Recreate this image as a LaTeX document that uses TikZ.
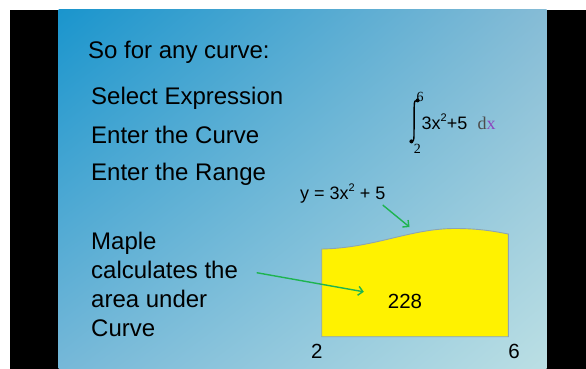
\documentclass[tikz,border=0pt]{standalone}
\usepackage{fontspec}
\setmainfont{Liberation Sans}
\newfontfamily\serifnum{Liberation Serif}
\usetikzlibrary{arrows.meta,shadings}
\definecolor{slidetl}{RGB}{26,149,205}
\definecolor{slidetr}{RGB}{134,188,214}
\definecolor{slidebl}{RGB}{118,184,216}
\definecolor{slidebr}{RGB}{187,223,228}
\definecolor{pointer}{RGB}{30,180,80}
\definecolor{curveline}{RGB}{140,165,180}
\definecolor{dxpurple}{RGB}{140,70,190}
\newcommand{\smallsq}{\raisebox{0.42em}{\fontsize{11}{12}\selectfont 2}}
\tikzset{
  slidetext/.style={anchor=base west,inner sep=0pt,font=\fontsize{24}{28}\selectfont},
  plottext/.style={anchor=base,inner sep=0pt,font=\fontsize{20.5}{24}\selectfont},
  pointerarrow/.style={pointer,line width=1.4pt,-{Straight Barb[length=4.5pt,width=9pt]}}
}
\begin{document}
\begin{tikzpicture}[x=1pt,y=-1pt]
\useasboundingbox (0,0) rectangle (586,369);
\fill[white] (0,0) rectangle (586,369);
% black frame and slide
\fill[black] (10,10) rectangle (586,369);
\shade[upper left=slidetl,upper right=slidetr,lower left=slidebl,lower right=slidebr]
  (58.5,10) rectangle (546.5,369);
% left hand text
\node[slidetext] (title) at (88,59) {So for any curve:};
\foreach \nm/\y/\txt in {select/104/Select Expression,curve/143.3/Enter the Curve,range/180.7/Enter the Range}{
\node[slidetext] (\nm) at (91,\y) {\txt};
}
\foreach \nm/\y/\txt in {maple/249.5/Maple,calc/278.7/calculates the,area/307.3/area under,curvew/336.7/Curve}{
\node[slidetext] (\nm) at (91,\y) {\txt};
}
% integral
\fill (417.6,100.4) circle (2pt);
\fill (411.4,141.4) circle (2pt);
\draw[line width=1.4pt] (417.6,100.4) .. controls (415,99.5) and (414.3,101.5) .. (414.2,106)
  -- (414,136) .. controls (413.9,140.5) and (413,142) .. (411.4,141.4);
\node[anchor=base,inner sep=0pt,font=\serifnum\fontsize{14}{14}\selectfont] (upper) at (420,101.5) {6};
\node[anchor=base,inner sep=0pt,font=\serifnum\fontsize{14}{14}\selectfont] (lower) at (417.3,153) {2};
\node[anchor=base west,inner sep=0pt,font=\fontsize{18}{20}\selectfont] (integrand) at (421.5,129) {3x\smallsq+5};
\node[anchor=base west,inner sep=0pt,font=\serifnum\fontsize{18}{20}\selectfont] (dx) at (477.5,129) {\textcolor{black!70}{d}\textcolor{dxpurple}{x}};
% area under the curve
\draw[fill=yellow,draw=curveline,line width=0.9pt] (321.7,336.7) -- (321.7,249)
  .. controls (375,248) and (410,228.5) .. (455,228.5)
  .. controls (480,228.5) and (495,231.5) .. (508.3,234) -- (508.3,336.7) -- cycle;
\node[plottext] (value) at (405,308) {228};
\node[plottext] (xlow) at (316.7,358) {2};
\node[plottext] (xhigh) at (514,358) {6};
\node[anchor=base west,inner sep=0pt,font=\fontsize{18}{20}\selectfont] (eqn) at (300,199.3) {y = 3x\smallsq{} + 5};
% pointers
\coordinate (eqntail) at (382.7,205);
\coordinate (eqntip) at (409.5,227);
\coordinate (areatail) at (256.7,272.7);
\coordinate (areatip) at (363.8,291.8);
\draw[pointerarrow] (eqntail) -- (eqntip);
\draw[pointerarrow] (areatail) -- (areatip);
\end{tikzpicture}
\end{document}
